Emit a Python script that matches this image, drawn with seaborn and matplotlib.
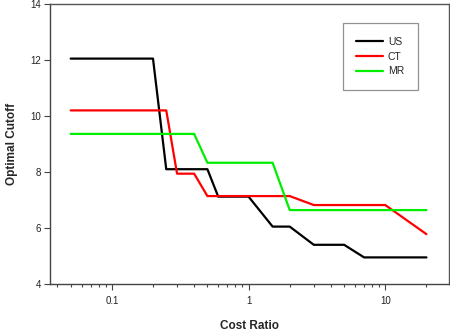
import matplotlib
matplotlib.use("Agg")
import matplotlib.pyplot as plt
import seaborn as sns
import pandas as pd
from matplotlib.ticker import LogLocator, FixedLocator, NullFormatter

sns.set_theme(style="white")
plt.rcParams['font.family'] = ['Liberation Sans', 'DejaVu Sans']

us_x = [0.05, 0.1, 0.2, 0.25, 0.5, 0.6, 1, 1.5, 2, 3, 5, 7, 10, 20]
us_y = [12.05, 12.05, 12.05, 8.1, 8.1, 7.12, 7.12, 6.05, 6.05, 5.4, 5.4, 4.95, 4.95, 4.95]
ct_x = [0.05, 0.1, 0.25, 0.3, 0.4, 0.5, 1, 2, 3, 10, 20]
ct_y = [10.2, 10.2, 10.2, 7.94, 7.94, 7.14, 7.14, 7.14, 6.82, 6.82, 5.78]
mr_x = [0.05, 0.1, 0.4, 0.5, 1, 1.5, 2, 10, 20]
mr_y = [9.36, 9.36, 9.36, 8.33, 8.33, 8.33, 6.64, 6.64, 6.64]
series = ["US", "CT", "MR"]
colors = ["#000000", "#ff0000", "#00ee00"]
y_ticks = [4, 6, 8, 10, 12, 14]
x_ticks = [0.1, 1, 10]
x_tick_labels = ["0.1", "1", "10"]

df = pd.concat([
    pd.DataFrame({"Cost Ratio": us_x, "Optimal Cutoff": us_y, "Method": "US"}),
    pd.DataFrame({"Cost Ratio": ct_x, "Optimal Cutoff": ct_y, "Method": "CT"}),
    pd.DataFrame({"Cost Ratio": mr_x, "Optimal Cutoff": mr_y, "Method": "MR"}),
], ignore_index=True)

fig = plt.figure(figsize=(4.5, 3.33), dpi=100)
ax = fig.add_axes([49.5/450, 1-284/333, (448.5-49.5)/450, (284-4)/333])
sns.lineplot(data=df, x="Cost Ratio", y="Optimal Cutoff", hue="Method",
             hue_order=series, palette=colors, linewidth=1.6, ax=ax,
             sort=False, estimator=None)
ax.set_xscale("log")
ax.set_xlim(0.0350, 29.0)
ax.set_ylim(4, 14)
ax.set_yticks(y_ticks)
ax.set_yticklabels([str(t) for t in y_ticks])
ax.xaxis.set_major_locator(FixedLocator(x_ticks))
ax.set_xticklabels(x_tick_labels)
ax.xaxis.set_minor_locator(LogLocator(base=10, subs=[2, 3, 4, 5, 6, 7, 8, 9]))
ax.xaxis.set_minor_formatter(NullFormatter())

for s in ["left", "bottom"]:
    ax.spines[s].set_color("#444444")
    ax.spines[s].set_linewidth(1.0)
for s in ["top", "right"]:
    ax.spines[s].set_color("#555555")
    ax.spines[s].set_linewidth(1.0)

ax.tick_params(axis="both", which="major", direction="out", length=4, width=0.8,
               color="#444444", labelsize=7, labelcolor="#222222", pad=2,
               bottom=True, left=True)
ax.tick_params(axis="x", which="minor", direction="out", length=2.5, width=0.8,
               color="#444444", bottom=True)
ax.tick_params(axis="x", which="major", pad=5)

ax.set_xlabel("Cost Ratio", fontsize=8.5, fontweight="bold", labelpad=10)
ax.set_ylabel("Optimal Cutoff", fontsize=8.5, fontweight="bold", labelpad=9)

leg = ax.legend(title=None, loc="upper left", bbox_to_anchor=((342.5-49.5)/399, 1-(23.5-4)/280),
                frameon=True, fancybox=False, fontsize=7.5, handlelength=2.6,
                handletextpad=0.45, borderpad=1.3, labelspacing=0.45, borderaxespad=0)
leg.get_frame().set_edgecolor("#777777")
leg.get_frame().set_linewidth(0.9)
for line in leg.get_lines():
    line.set_linewidth(1.6)

fig.savefig("out.png", dpi=100)
